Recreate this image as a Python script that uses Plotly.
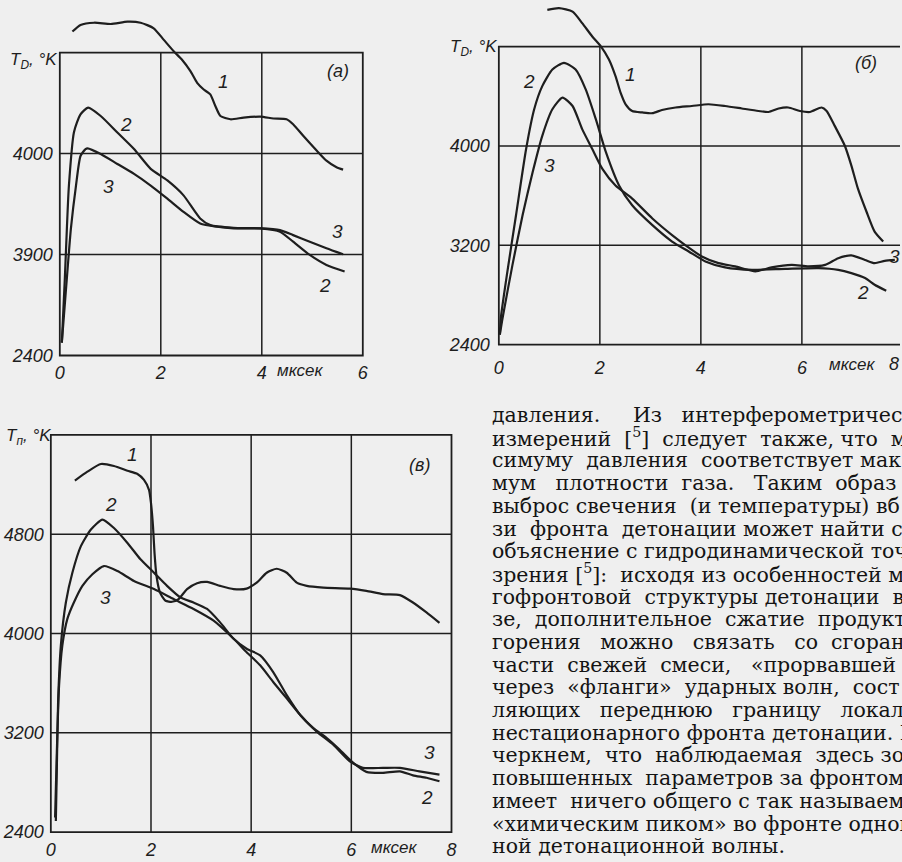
import plotly.graph_objects as go

W, H = 902, 862

# ---------------- data ----------------
# panel (a): time, mks ; temperature, K (grid scale 2400..4800, 800 per cell)
a_t1 = [0.25, 0.41, 0.68, 1.01, 1.34, 1.60, 1.86, 2.06, 2.26, 2.42, 2.59, 2.72, 2.85, 2.98, 3.08, 3.18,
        3.38, 3.64, 3.97, 4.23, 4.49, 4.62, 4.82, 5.09, 5.28, 5.48, 5.61]
a_T1 = [4967, 5019, 5037, 5027, 5045, 5037, 4993, 4901, 4809, 4744, 4652, 4561, 4508, 4469, 4377, 4298,
        4272, 4285, 4293, 4278, 4272, 4233, 4141, 4023, 3944, 3892, 3873]
a_t2 = [0.04, 0.10, 0.14, 0.18, 0.28, 0.41, 0.56, 0.81, 1.14, 1.47, 1.80, 2.13, 2.45, 2.78, 2.98, 3.44,
        3.97, 4.36, 4.62, 4.95, 5.28, 5.64]
a_T2 = [2502, 3014, 3407, 3745, 4170, 4311, 4364, 4298, 4167, 4036, 3879, 3787, 3669, 3486, 3433, 3412,
        3407, 3381, 3302, 3197, 3118, 3066]
a_t3 = [0.04, 0.14, 0.22, 0.32, 0.41, 0.51, 0.55, 0.81, 1.14, 1.47, 1.80, 2.13, 2.45, 2.78, 3.11, 3.44,
        3.97, 4.36, 4.62, 4.95, 5.28, 5.61]
a_T3 = [2502, 3014, 3407, 3745, 3981, 4036, 4042, 3997, 3918, 3839, 3747, 3643, 3538, 3446, 3420, 3407,
        3407, 3394, 3354, 3302, 3250, 3202]

# panel (б)
b_t1 = [0.96, 1.19, 1.46, 1.65, 1.85, 2.02, 2.18, 2.31, 2.41, 2.51, 2.64, 2.84, 3.04, 3.23, 3.50, 3.82,
        4.15, 4.48, 4.81, 5.14, 5.34, 5.54, 5.73, 5.96, 6.16, 6.39, 6.49, 6.65, 6.85, 6.98, 7.11, 7.28,
        7.44, 7.61]
b_T1 = [5096, 5110, 5082, 4990, 4882, 4802, 4696, 4562, 4430, 4336, 4282, 4270, 4264, 4290, 4310, 4322,
        4336, 4322, 4302, 4282, 4274, 4302, 4310, 4282, 4274, 4310, 4282, 4162, 4002, 3842, 3656, 3470,
        3310, 3230]
b_t2 = [0.02, 0.04, 0.17, 0.34, 0.54, 0.70, 0.86, 1.06, 1.29, 1.52, 1.72, 1.92, 2.12, 2.38, 2.64, 3.04,
        3.43, 3.76, 4.09, 4.48, 5.01, 5.67, 6.33, 6.72, 6.98, 7.25, 7.44, 7.67]
b_T2 = [2480, 2616, 2990, 3442, 3976, 4296, 4482, 4616, 4670, 4616, 4456, 4216, 3950, 3682, 3522, 3362,
        3230, 3150, 3070, 3022, 3002, 3010, 3016, 3002, 2976, 2936, 2882, 2834]
b_t3 = [0.02, 0.075, 0.27, 0.47, 0.67, 0.86, 1.06, 1.26, 1.46, 1.65, 1.85, 2.05, 2.31, 2.64, 3.04, 3.43,
        3.69, 4.02, 4.35, 4.68, 5.08, 5.40, 5.80, 6.13, 6.46, 6.72, 6.98, 7.25, 7.44, 7.64, 7.84]
b_T3 = [2480, 2616, 3042, 3442, 3790, 4082, 4296, 4390, 4322, 4136, 3976, 3816, 3682, 3576, 3416, 3282,
        3202, 3110, 3056, 3030, 2990, 3022, 3042, 3030, 3042, 3096, 3118, 3082, 3056, 3074, 3082]

# panel (в)
c_t1 = [0.48, 0.73, 1.00, 1.26, 1.53, 1.73, 1.86, 1.96, 2.00, 2.04, 2.07, 2.11, 2.18, 2.29, 2.42, 2.55,
        2.72, 2.92, 3.12, 3.38, 3.65, 3.91, 4.11, 4.31, 4.51, 4.71, 4.91, 5.11, 5.44, 5.97, 6.30, 6.63,
        6.97, 7.23, 7.50, 7.76]
c_T1 = [5232, 5304, 5366, 5350, 5312, 5286, 5238, 5158, 5050, 4864, 4650, 4464, 4330, 4264, 4256, 4278,
        4358, 4406, 4416, 4384, 4358, 4362, 4410, 4490, 4522, 4490, 4410, 4384, 4370, 4362, 4344, 4318,
        4310, 4250, 4170, 4086]
c_t2 = [0.10, 0.12, 0.145, 0.20, 0.30, 0.43, 0.60, 0.80, 1.03, 1.26, 1.53, 1.79, 2.06, 2.32, 2.59, 2.85,
        3.12, 3.38, 3.65, 3.91, 4.18, 4.44, 4.71, 4.98, 5.24, 5.51, 5.77, 6.04, 6.30, 6.63, 6.97, 7.23,
        7.50, 7.76]
c_T2 = [2490, 2918, 3450, 3904, 4250, 4490, 4704, 4838, 4918, 4850, 4730, 4598, 4490, 4384, 4290, 4250,
        4198, 4090, 3958, 3878, 3824, 3690, 3504, 3344, 3238, 3158, 3064, 2958, 2886, 2878, 2890, 2858,
        2838, 2810]
c_t3 = [0.085, 0.12, 0.165, 0.23, 0.33, 0.46, 0.63, 0.83, 1.06, 1.33, 1.66, 2.06, 2.45, 2.85, 3.25, 3.65,
        3.91, 4.18, 4.44, 4.71, 4.98, 5.31, 5.64, 5.97, 6.23, 6.63, 6.97, 7.36, 7.76]
c_T3 = [2518, 3050, 3584, 3904, 4118, 4250, 4384, 4478, 4544, 4504, 4424, 4358, 4278, 4198, 4104, 3958,
        3850, 3744, 3610, 3478, 3344, 3210, 3104, 2970, 2918, 2918, 2918, 2890, 2864]

# tick labels (as printed)
a_xticks = [0, 2, 4, 6]
a_yticks = [2400, 3200, 4000]
a_ytext = ["2400", "3900", "4000"]
b_xticks = [0, 2, 4, 6]
b_yticks = [2400, 3200, 4000]
b_ytext = ["2400", "3200", "4000"]
c_xticks = [0, 2, 4, 6, 8]
c_yticks = [2400, 3200, 4000, 4800]
c_ytext = ["2400", "3200", "4000", "4800"]

text_lines = [
    "давления.     Из   интерферометричес",
    "измерений  [<sup>5</sup>]  следует  также, что  м",
    "симуму  давления  соответствует мак",
    "мум   плотности  газа.   Таким  образ",
    "выброс свечения  (и температуры) вб",
    "зи  фронта  детонации может найти с",
    "объяснение с гидродинамической точ",
    "зрения [<sup>5</sup>]:  исходя из особенностей м",
    "гофронтовой  структуры детонации  в",
    "зе,  дополнительное  сжатие  продукт",
    "горения   можно   связать   со  сгоран",
    "части  свежей  смеси,   «прорвавшей",
    "через  «фланги»  ударных волн,  сост",
    "ляющих   переднюю   границу   локал",
    "нестационарного фронта детонации. П",
    "черкнем,  что  наблюдаемая  здесь зо",
    "повышенных  параметров за фронтом",
    "имеет  ничего общего с так называем",
    "«химическим пиком» во фронте одном",
    "ной детонационной волны.",
]

# ---------------- styling ----------------
INK = "#1e1e1e"
BG = "#efefef"
SANS = "Liberation Sans, Arial, sans-serif"
SERIF = "DejaVu Serif, Liberation Serif, serif"


def fx(px):
    return px / W


def fy(py):
    return 1 - py / H


# panel geometry in pixels: box edges and axis limits of the box
panels = {
    "a": dict(box=(59, 363, 358, 53), xlim=(0, 6), ylim=(2400, 4800), dom=(55, 367, 362, 8)),
    "b": dict(box=(499.5, 904.9, 347, 47), xlim=(0, 8), ylim=(2400, 4800), dom=(495.5, 902, 351, 0)),
    "c": dict(box=(50, 452, 838, 438), xlim=(0, 8), ylim=(2400, 5600), dom=(46, 456, 842, 430)),
}

fig = go.Figure()

series = {
    "a": [(a_t1, a_T1), (a_t2, a_T2), (a_t3, a_T3)],
    "b": [(b_t1, b_T1), (b_t2, b_T2), (b_t3, b_T3)],
    "c": [(c_t1, c_T1), (c_t2, c_T2), (c_t3, c_T3)],
}
ticks = {
    "a": (a_xticks, a_yticks, a_ytext),
    "b": (b_xticks, b_yticks, b_ytext),
    "c": (c_xticks, c_yticks, c_ytext),
}
x_standoff = {"a": 1, "b": 6, "c": 1}
y_standoff = {"a": 2, "b": 4, "c": 2}
extra_grid_y = {"a": [4800], "b": [4800], "c": []}

shapes = []
for i, key in enumerate(["a", "b", "c"], start=1):
    p = panels[key]
    L, R, B, T = p["box"]
    dl, dr, db, dt = p["dom"]
    x0, x1 = p["xlim"]
    y0, y1 = p["ylim"]
    sx = (R - L) / (x1 - x0)
    sy = (B - T) / (y1 - y0)
    xr = [x0 - (L - dl) / sx, x0 + (dr - L) / sx]
    yr = [y0 - (db - B) / sy, y1 + (T - dt) / sy]
    xa = "x" if i == 1 else f"x{i}"
    ya = "y" if i == 1 else f"y{i}"
    xt, yt, ytext = ticks[key]
    tfont = dict(family=SANS, size=18, color=INK, style="italic")
    fig.update_layout(**{
        ("xaxis" if i == 1 else f"xaxis{i}"): dict(
            domain=[fx(dl), fx(dr)], range=xr, anchor=ya, showgrid=False, zeroline=False,
            showline=False, ticks="", tickvals=xt, ticktext=[str(v) for v in xt],
            ticklabelstandoff=x_standoff[key], tickfont=tfont, fixedrange=True),
        ("yaxis" if i == 1 else f"yaxis{i}"): dict(
            domain=[fy(db), fy(dt)], range=yr, anchor=xa, showgrid=False, zeroline=False,
            showline=False, ticks="", tickvals=yt, ticktext=ytext,
            ticklabelstandoff=y_standoff[key], tickfont=tfont, fixedrange=True),
    })
    for (t, T_) in series[key]:
        fig.add_trace(go.Scatter(x=t, y=T_, mode="lines", xaxis=xa, yaxis=ya,
                                 line=dict(color=INK, width=2.2, shape="spline", smoothing=0.6),
                                 showlegend=False, hoverinfo="skip"))
    # grid and frame built from the tick arrays and the box limits
    gx = [v for v in xt if x0 < v < x1]
    gy = sorted(set(v for v in list(yt) + extra_grid_y[key] if y0 < v < y1))
    for v in gx:
        shapes.append(dict(type="line", xref=xa, yref=ya, x0=v, x1=v, y0=y0, y1=y1,
                           line=dict(color=INK, width=1.5)))
    for v in gy:
        shapes.append(dict(type="line", xref=xa, yref=ya, x0=x0, x1=x1, y0=v, y1=v,
                           line=dict(color=INK, width=1.5)))
    shapes.append(dict(type="rect", xref=xa, yref=ya, x0=x0, x1=x1, y0=y0, y1=y1,
                       line=dict(color=INK, width=1.8), fillcolor="rgba(0,0,0,0)"))

annotations = []


def lab(px, py, text, size=18, family=SANS, style="italic", xanchor="center", color=INK):
    annotations.append(dict(x=fx(px), y=fy(py), xref="paper", yref="paper", text=text,
                            showarrow=False, xanchor=xanchor, yanchor="middle",
                            font=dict(family=family, size=size, color=color, style=style)))


# axis titles
lab(33, 61, "T<sub>D</sub>, °K", 17)
lab(474, 48, "T<sub>D</sub>, °K", 17)
lab(28, 440, "T<sub>п</sub>, °K", 17)
# units
lab(300, 373, "мксек", 17)
lab(854, 367, "мксек", 17)
lab(896, 367, "8", 18)
lab(394, 853, "мксек", 17)
# panel letters
lab(338, 72, "(a)", 18)
lab(868, 63, "(б)", 18)
lab(420, 468, "(в)", 18)
# curve numbers
for px, py, s in [(223, 82, "1"), (125, 125, "2"), (325, 287, "2"), (108, 188, "3"), (338, 233, "3"),
                  (632, 75, "1"), (530, 82, "2"), (550, 167, "3"), (896, 258, "3"), (865, 295, "2"),
                  (132, 458, "1"), (110, 508, "2"), (105, 602, "3"), (430, 758, "3"), (427, 803, "2")]:
    lab(px, py, s, 19)

# body text
for k, line in enumerate(text_lines):
    lab(491, 418 + k * 22.85, line, 20.5, SERIF, "normal", "left", "#141414")

fig.update_layout(width=W, height=H, margin=dict(l=0, r=0, t=0, b=0),
                  paper_bgcolor=BG, plot_bgcolor="rgba(0,0,0,0)",
                  shapes=shapes, annotations=annotations, showlegend=False)

fig.write_html("out.html", config={"displayModeBar": False, "staticPlot": True},
               post_script="document.body.style.margin='0px';document.body.style.overflow='hidden';")
